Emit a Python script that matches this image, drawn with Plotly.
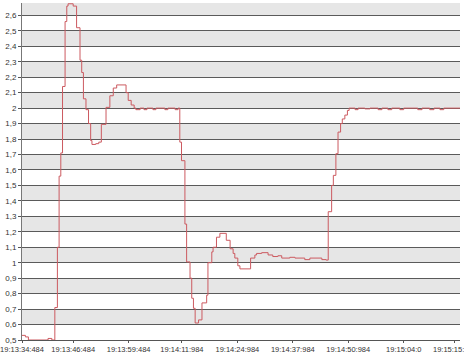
import plotly.graph_objects as go

# seconds since 19:13:34.484 and measured values (step series)
t_sec = [0.0, 0.8, 1.5, 6.1, 7.0, 7.7, 8.3, 8.7, 9.1, 9.5, 10.1, 10.5, 10.8, 12.0,
         12.8, 13.6, 14.0, 14.4, 15.0, 15.6, 16.1, 16.4, 17.3, 18.0, 18.6, 19.7,
         20.6, 21.4, 22.2, 24.4, 24.9, 25.6, 26.3, 26.7, 27.7, 28.6, 29.3, 30.7,
         31.4, 33.5, 34.2, 35.9, 36.6, 37.0, 37.4, 38.2, 38.6, 39.4, 39.8, 40.2,
         40.6, 41.4, 42.2, 43.3, 43.6, 44.5, 44.8, 45.6, 46.4, 47.9, 48.8, 49.5,
         49.9, 50.6, 51.1, 53.6, 54.6, 55.0, 56.2, 57.7, 58.8, 60.0, 60.9, 62.8,
         64.0, 66.3, 67.5, 70.3, 71.3, 71.8, 72.6, 73.0, 73.6, 74.1, 74.7, 75.1,
         75.7, 76.3, 76.7, 78.1, 78.8, 80.4, 81.6, 83.5, 84.4, 85.8, 86.7, 88.6,
         89.5, 92.8, 93.8, 95.6, 96.6, 98.0, 98.9, 102.7]
values = [0.53, 0.52, 0.50, 0.51, 0.50, 0.71, 1.10, 1.56, 1.71, 2.14, 2.56, 2.66, 2.675, 2.66,
          2.52, 2.31, 2.23, 2.06, 1.99, 1.90, 1.79, 1.765, 1.77, 1.78, 1.895, 2.005,
          2.08, 2.13, 2.15, 2.10, 2.05, 2.02, 2.00, 1.99, 2.00, 1.99, 2.00, 1.99,
          2.00, 1.99, 2.00, 1.99, 2.00, 1.78, 1.66, 1.25, 1.005, 0.90, 0.77, 0.705,
          0.61, 0.63, 0.74, 0.79, 1.00, 1.07, 1.10, 1.165, 1.19, 1.145, 1.09, 1.06,
          1.03, 0.98, 0.96, 1.03, 1.05, 1.06, 1.065, 1.05, 1.04, 1.045, 1.03, 1.035,
          1.03, 1.02, 1.03, 1.02, 1.017, 1.33, 1.50, 1.565, 1.705, 1.845, 1.90, 1.93,
          1.955, 1.985, 2.00, 1.99, 2.00, 1.995, 2.00, 1.99, 2.00, 1.99, 2.00, 1.99,
          2.00, 1.99, 2.00, 1.99, 2.00, 1.99, 2.00, 2.00]

x_tick_vals = [0, 12, 25, 37.5, 50.5, 63.5, 76.5, 89.516, 101.5]
x_tick_text = ["19:13:34:484", "19:13:46:484", "19:13:59:484", "19:14:11:984",
               "19:14:24:984", "19:14:37:984", "19:14:50:984", "19:15:04:0",
               "19:15:15:984"]
y_tick_vals = [0.5 + 0.1 * i for i in range(22)]
y_tick_text = [("%g" % round(v, 1)).replace(".", ",") for v in y_tick_vals]
band_starts = [0.6 + 0.2 * k for k in range(11)]

fig = go.Figure()
fig.add_trace(go.Scatter(x=t_sec, y=values, mode="lines", line_shape="hv",
                         line=dict(color="#cc5a60", width=1), hoverinfo="skip"))

shapes = []
for b in band_starts:
    shapes.append(dict(type="rect", xref="paper", yref="y", x0=0, x1=1,
                       y0=b, y1=b + 0.1, fillcolor="#e6e6e6", line_width=0,
                       layer="below"))

font = dict(family="Liberation Sans, Arial, sans-serif", size=8, color="#333333")
xfont = dict(family="Liberation Sans, Arial, sans-serif", size=7.5, color="#333333")
fig.update_layout(
    width=464, height=354,
    margin=dict(l=22, r=4, t=3, b=14),
    paper_bgcolor="white", plot_bgcolor="white",
    showlegend=False,
    shapes=shapes,
    font=font,
    xaxis=dict(range=[0, 102.7], tickmode="array", tickvals=x_tick_vals,
               ticktext=x_tick_text, showgrid=False, zeroline=False,
               showline=True, linecolor="#555555", linewidth=1,
               ticks="outside", ticklen=2, tickcolor="#555555",
               tickfont=xfont, automargin=False, ticklabeloverflow="allow"),
    yaxis=dict(range=[0.5, 2.68], tickmode="array", tickvals=y_tick_vals,
               ticktext=y_tick_text, showgrid=True, gridcolor="#5a5a5a",
               gridwidth=1, zeroline=False, showline=True, linecolor="#777777",
               linewidth=1, ticks="outside", ticklen=3, tickcolor="#555555",
               tickfont=font, automargin=False, ticklabeloverflow="allow"),
)
fig.write_html("out.html")
